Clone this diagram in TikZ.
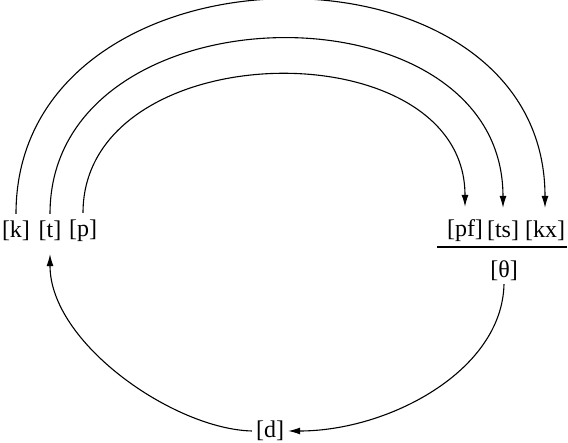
\documentclass[tikz,border=0pt]{standalone}
\usepackage{fontspec}
\setmainfont{Liberation Serif}
\usetikzlibrary{arrows.meta}

\begin{document}
\begin{tikzpicture}[x=1pt, y=1pt, every node/.style={font=\fontsize{24}{28}\selectfont},
			s/.style={inner xsep=3pt, inner ysep=7pt},
			a/.style={line width=1.1pt, -{Latex[length=12pt,width=7pt]}}]
			\useasboundingbox (0,0) rectangle (568,443);
			\node[s] (k) at (16,212) {[k]};
			\node[s] (t) at (50,212) {[t]};
			\node[s] (p) at (83,212) {[p]};
			\node[s, inner ysep=13pt] (pf) at (465,212) {[pf]};
			\node[s, inner ysep=13pt] (ts) at (503,212) {[ts]};
			\node[s, inner ysep=13pt] (kx) at (545,212) {[kx]};
			\node[s, inner ysep=3pt] (th) at (504,172) {[θ]};
			\node[s, inner xsep=4pt] (d) at (270,12) {[d]};
			\draw[line width=1.1pt] (437,196) -- (567,196);
			\foreach \a/\b/\h in {k/kx/281, t/ts/229, p/pf/180}
				\draw[a] (\a.north) .. controls +(0,\h) and +(0,\h) .. (\b.north);
			\draw[a] (th.south) .. controls +(-2,-87) and +(100,0) .. (d.east);
			\draw[a, shorten >=6pt] (d.west) .. controls +(-78,2) and +(0,-95) .. (t.south);
		\end{tikzpicture}
\end{document}
